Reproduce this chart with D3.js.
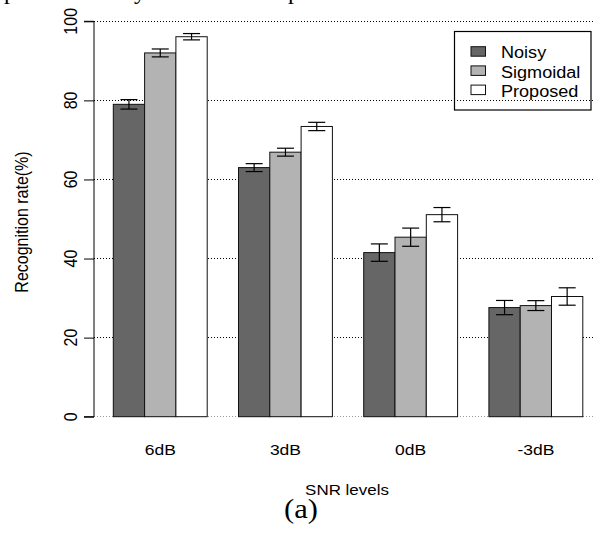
<!DOCTYPE html>
<html>
<head>
<meta charset="utf-8">
<script src="https://cdn.jsdelivr.net/npm/d3@7"></script>
<style>
  html, body { margin: 0; padding: 0; background: #fff; }
  svg { display: block; }
  text { font-family: "Liberation Sans", Arial, sans-serif; fill: #000; }
</style>
</head>
<body>
<svg id="chart" width="596" height="533"></svg>
<script>
const categories = ["6dB", "3dB", "0dB", "-3dB"];
const seriesNames = ["Noisy", "Sigmoidal", "Proposed"];
const noisy = [79.0, 63.0, 41.5, 27.6];
const sigmoidal = [92.0, 66.9, 45.4, 28.1];
const proposed = [96.1, 73.4, 51.1, 30.4];
const noisyErr = [1.2, 1.0, 2.2, 1.8];
const sigmoidalErr = [1.0, 1.0, 2.3, 1.25];
const proposedErr = [0.8, 1.05, 1.8, 2.2];
const yTicks = [0, 20, 40, 60, 80, 100];
const seriesColors = ["#666666", "#b3b3b3", "#ffffff"];

const seriesValues = [noisy, sigmoidal, proposed];
const seriesErrs = [noisyErr, sigmoidalErr, proposedErr];

const svg = d3.select("#chart");
const SX = 1.13; // horizontal text stretch seen in reference

const y = d3.scaleLinear().domain([0, 100]).range([416.7, 21.3]);
const x0 = d3.scaleBand().domain(categories).range([113.3, 582.8]).paddingInner(0.25).paddingOuter(0);
const x1 = d3.scaleBand().domain(seriesNames).range([0, x0.bandwidth()]).padding(0);

const axisX = 94;

// top cut-off text fragments from surrounding document (only descenders visible)
[["p", 4], ["y", 134], ["p", 288]].forEach(([t, px]) => {
  svg.append("text").attr("x", px).attr("y", -1)
    .style("font-family", "'Liberation Serif', 'Times New Roman', serif")
    .style("font-size", "24px").text(t);
});

// gridlines
svg.append("g").selectAll("line").data(yTicks).join("line")
  .attr("x1", axisX).attr("x2", 594)
  .attr("y1", d => y(d)).attr("y2", d => y(d))
  .attr("stroke", d => d === 0 ? "#9a9a9a" : "#000")
  .attr("stroke-width", 1)
  .attr("stroke-dasharray", "1,2")
  .attr("shape-rendering", "crispEdges");

// bars
const groups = svg.append("g").selectAll("g").data(categories).join("g")
  .attr("transform", d => `translate(${x0(d)},0)`);

groups.each(function(cat, ci) {
  const g = d3.select(this);
  seriesNames.forEach((s, si) => {
    const v = seriesValues[si][ci];
    g.append("rect")
      .attr("x", x1(s)).attr("y", y(v))
      .attr("width", x1.bandwidth()).attr("height", y(0) - y(v))
      .attr("fill", seriesColors[si]).attr("stroke", "#111").attr("stroke-width", 1);
  });
});

// error bars
groups.each(function(cat, ci) {
  const g = d3.select(this);
  seriesNames.forEach((s, si) => {
    const v = seriesValues[si][ci], e = seriesErrs[si][ci];
    const cx = x1(s) + x1.bandwidth() / 2;
    const cw = 8.5;
    g.append("line").attr("x1", cx).attr("x2", cx).attr("y1", y(v + e)).attr("y2", y(v - e))
      .attr("stroke", "#000").attr("stroke-width", 1.2);
    [v + e, v - e].forEach(t => {
      g.append("line").attr("x1", cx - cw).attr("x2", cx + cw).attr("y1", y(t)).attr("y2", y(t))
        .attr("stroke", "#000").attr("stroke-width", 1.2);
    });
  });
});

// y axis
const yAxis = d3.axisLeft(y).tickValues(yTicks).tickSize(10).tickFormat("");
const ya = svg.append("g").attr("transform", `translate(${axisX},0)`).call(yAxis);
ya.select(".domain").attr("stroke", "#000").attr("d", `M-10,${y(100)}H0V${y(0)}H-10`);
ya.selectAll(".tick line").attr("stroke", "#000");

// y tick labels (rotated)
svg.append("g").selectAll("text").data(yTicks).join("text")
  .attr("transform", d => `translate(77,${y(d)}) scale(${SX},1) rotate(-90)`)
  .attr("text-anchor", "middle")
  .style("font-size", "16px")
  .text(d => d);

// y axis title
svg.append("text")
  .attr("transform", `translate(28,222) scale(${SX},1) rotate(-90)`)
  .attr("text-anchor", "middle")
  .style("font-size", "16px")
  .text("Recognition rate(%)");

// x category labels
svg.append("g").selectAll("text").data(categories).join("text")
  .attr("transform", d => `translate(${x0(d) + x0.bandwidth() / 2},455) scale(${SX},1)`)
  .attr("text-anchor", "middle")
  .style("font-size", "15.5px")
  .text(d => d);

// x axis title
svg.append("text")
  .attr("transform", `translate(347,494.5) scale(${SX},1)`)
  .attr("text-anchor", "middle")
  .style("font-size", "15px")
  .text("SNR levels");

// caption
svg.append("text")
  .attr("transform", `translate(301,518) scale(${SX},1)`)
  .attr("text-anchor", "middle")
  .style("font-family", "'Liberation Serif', 'Times New Roman', serif")
  .style("font-size", "27px")
  .text("(a)");

// legend
const lg = svg.append("g");
lg.append("rect").attr("x", 454.5).attr("y", 31.5).attr("width", 136.5).attr("height", 78.5)
  .attr("fill", "none").attr("stroke", "#000").attr("stroke-width", 1.2);
seriesNames.forEach((s, i) => {
  const ry = 46.7 + i * 19.2;
  lg.append("rect").attr("x", 471).attr("y", ry).attr("width", 14.5).attr("height", 9.5)
    .attr("fill", seriesColors[i]).attr("stroke", "#111").attr("stroke-width", 1);
  lg.append("text")
    .attr("transform", `translate(501,${ry + 11.6}) scale(${SX},1)`)
    .style("font-size", "16px")
    .text(s);
});
</script>
</body>
</html>
